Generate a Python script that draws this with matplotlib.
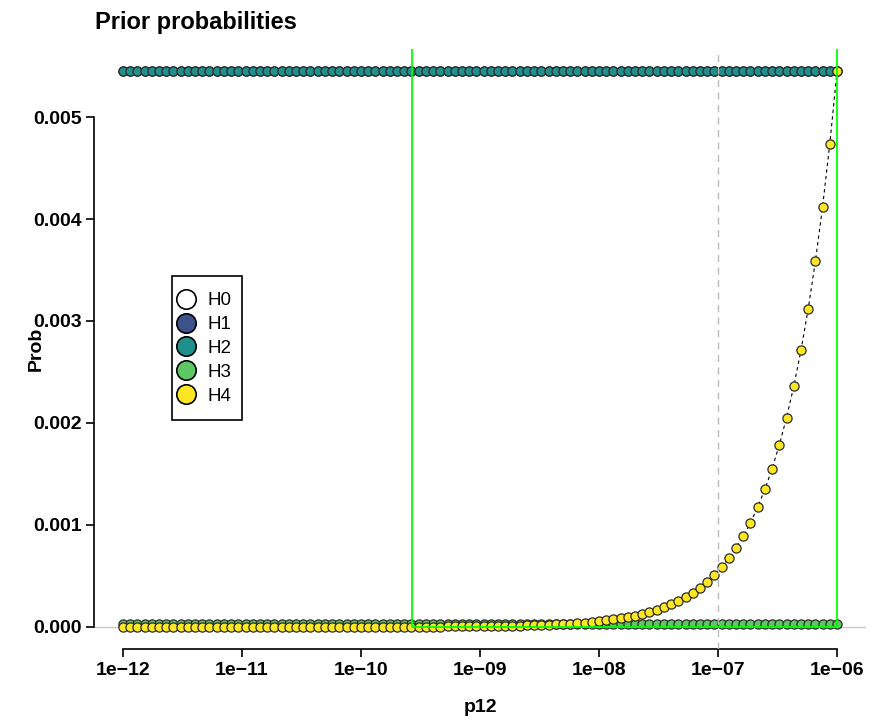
import matplotlib.pyplot as plt
from matplotlib.lines import Line2D
from matplotlib.patches import Rectangle

plt.rcParams['font.family'] = ['Liberation Sans', 'DejaVu Sans']

# p12 grid (log spaced, 100 values)
p12 = [
    1.000e-12, 1.150e-12, 1.322e-12, 1.520e-12, 1.748e-12, 2.009e-12, 2.310e-12, 2.656e-12, 3.054e-12, 3.511e-12,
    4.037e-12, 4.642e-12, 5.337e-12, 6.136e-12, 7.055e-12, 8.111e-12, 9.326e-12, 1.072e-11, 1.233e-11, 1.418e-11,
    1.630e-11, 1.874e-11, 2.154e-11, 2.477e-11, 2.848e-11, 3.275e-11, 3.765e-11, 4.329e-11, 4.977e-11, 5.722e-11,
    6.579e-11, 7.565e-11, 8.697e-11, 1.000e-10, 1.150e-10, 1.322e-10, 1.520e-10, 1.748e-10, 2.009e-10, 2.310e-10,
    2.656e-10, 3.054e-10, 3.511e-10, 4.037e-10, 4.642e-10, 5.337e-10, 6.136e-10, 7.055e-10, 8.111e-10, 9.326e-10,
    1.072e-9, 1.233e-9, 1.418e-9, 1.630e-9, 1.874e-9, 2.154e-9, 2.477e-9, 2.848e-9, 3.275e-9, 3.765e-9,
    4.329e-9, 4.977e-9, 5.722e-9, 6.579e-9, 7.565e-9, 8.697e-9, 1.000e-8, 1.150e-8, 1.322e-8, 1.520e-8,
    1.748e-8, 2.009e-8, 2.310e-8, 2.656e-8, 3.054e-8, 3.511e-8, 4.037e-8, 4.642e-8, 5.337e-8, 6.136e-8,
    7.055e-8, 8.111e-8, 9.326e-8, 1.072e-7, 1.233e-7, 1.418e-7, 1.630e-7, 1.874e-7, 2.154e-7, 2.477e-7,
    2.848e-7, 3.275e-7, 3.765e-7, 4.329e-7, 4.977e-7, 5.722e-7, 6.579e-7, 7.565e-7, 8.697e-7, 1.000e-6,
]

# prior for H4 at each p12
h4 = [
    5.45e-9, 6.27e-9, 7.21e-9, 8.28e-9, 9.53e-9, 1.095e-8, 1.259e-8, 1.448e-8, 1.664e-8, 1.913e-8,
    2.200e-8, 2.530e-8, 2.909e-8, 3.344e-8, 3.845e-8, 4.420e-8, 5.083e-8, 5.84e-8, 6.72e-8, 7.73e-8,
    8.88e-8, 1.021e-7, 1.174e-7, 1.350e-7, 1.552e-7, 1.785e-7, 2.052e-7, 2.359e-7, 2.712e-7, 3.118e-7,
    3.586e-7, 4.123e-7, 4.740e-7, 5.45e-7, 6.27e-7, 7.21e-7, 8.28e-7, 9.53e-7, 1.095e-6, 1.259e-6,
    1.448e-6, 1.664e-6, 1.913e-6, 2.200e-6, 2.530e-6, 2.909e-6, 3.344e-6, 3.845e-6, 4.420e-6, 5.083e-6,
    5.84e-6, 6.72e-6, 7.73e-6, 8.88e-6, 1.021e-5, 1.174e-5, 1.350e-5, 1.552e-5, 1.785e-5, 2.052e-5,
    2.359e-5, 2.712e-5, 3.118e-5, 3.586e-5, 4.123e-5, 4.740e-5, 5.45e-5, 6.27e-5, 7.21e-5, 8.28e-5,
    9.53e-5, 1.095e-4, 1.259e-4, 1.448e-4, 1.664e-4, 1.913e-4, 2.200e-4, 2.530e-4, 2.909e-4, 3.344e-4,
    3.845e-4, 4.420e-4, 5.083e-4, 5.84e-4, 6.72e-4, 7.73e-4, 8.88e-4, 1.021e-3, 1.174e-3, 1.350e-3,
    1.552e-3, 1.785e-3, 2.052e-3, 2.359e-3, 2.712e-3, 3.118e-3, 3.586e-3, 4.123e-3, 4.740e-3, 5.45e-3,
]

# H1, H2, H3 priors do not depend on p12
h1_val = 0.00545
h2_val = 0.00545
h3_val = 0.0000297

hyps = ["H0", "H1", "H2", "H3", "H4"]
cols = ["#FFFFFF", "#3B528B", "#21908C", "#5DC863", "#FDE725"]

# p12 range where the rule holds, and the p12 in use
p12_lo = 2.7e-10
p12_hi = 1e-6
p12_used = 1e-7

xticks = [1e-12, 1e-11, 1e-10, 1e-9, 1e-8, 1e-7, 1e-6]
xlabels = ["1e\u221212", "1e\u221211", "1e\u221210", "1e\u221209", "1e\u221208", "1e\u221207", "1e\u221206"]
yticks = [0.000, 0.001, 0.002, 0.003, 0.004, 0.005]
ylabels = ["0.000", "0.001", "0.002", "0.003", "0.004", "0.005"]

fig = plt.figure(figsize=(8.77, 7.20), dpi=100)
ax = fig.add_axes([0.1076, 0.0986, 0.8794, 0.8333])

series = {
    "H1": [h1_val] * len(p12),
    "H2": [h2_val] * len(p12),
    "H3": [h3_val] * len(p12),
    "H4": h4,
}
for name, col in zip(hyps[1:], cols[1:]):
    ax.plot(p12, series[name], color="black", lw=0.8, ls=(0, (3, 3)), zorder=2)
    ax.plot(p12, series[name], ls="none", marker="o", ms=6.6, mfc=col,
            mec="#2b2b2b", mew=0.9, zorder=3)

ax.axhline(0, color="#c8c8c8", lw=1, zorder=1)
ax.axvline(p12_used, color="#bbbbbb", lw=1, ls=(0, (5, 4)), zorder=4)
ax.add_patch(Rectangle((p12_lo, 0), p12_hi - p12_lo, 1, fill=False,
                       edgecolor="#00FF00", lw=1.3, zorder=5))

ax.set_xscale("log")
ax.set_xlim(10 ** -12.24, 10 ** -5.76)
ax.set_ylim(-0.000218, 0.005668)

for s in ["top", "right"]:
    ax.spines[s].set_visible(False)
ax.spines["left"].set_bounds(0, 0.005)
ax.spines["bottom"].set_bounds(1e-12, 1e-6)
ax.spines["left"].set_linewidth(1.2)
ax.spines["bottom"].set_linewidth(1.2)

ax.set_xticks(xticks)
ax.set_xticklabels(xlabels, fontsize=14, fontweight="bold")
ax.minorticks_off()
ax.set_yticks(yticks)
ax.set_yticklabels(ylabels, fontsize=14, fontweight="bold")
ax.tick_params(axis="both", length=6, width=1.2, pad=3)

ax.set_xlabel("p12", fontsize=14, fontweight="bold", labelpad=15)
ax.set_ylabel("Prob", fontsize=14, fontweight="bold", labelpad=-8)

fig.text(95 / 877, 1 - 23 / 720, "Prior probabilities", fontsize=17,
         fontweight="bold", ha="left", va="center")

# legend box drawn separately so the padding can differ across and down
box = Rectangle((172 / 877, 1 - 420 / 720), 70 / 877, 144 / 720, transform=fig.transFigure,
                facecolor="white", edgecolor="black", lw=1.2, zorder=9, clip_on=False)
ax.add_patch(box)

handles = [Line2D([], [], ls="none", marker="o", ms=14, mfc=c, mec="black", mew=1.2)
           for c in cols]
leg = ax.legend(handles, hyps, loc="center left",
                bbox_to_anchor=(176 / 877, 1 - 348.5 / 720), bbox_transform=fig.transFigure,
                fontsize=13.5, frameon=False, handlelength=1.1, handletextpad=0.6,
                labelspacing=0.36, borderpad=0, borderaxespad=0)
leg.set_zorder(10)

fig.savefig("out.png", dpi=100)
